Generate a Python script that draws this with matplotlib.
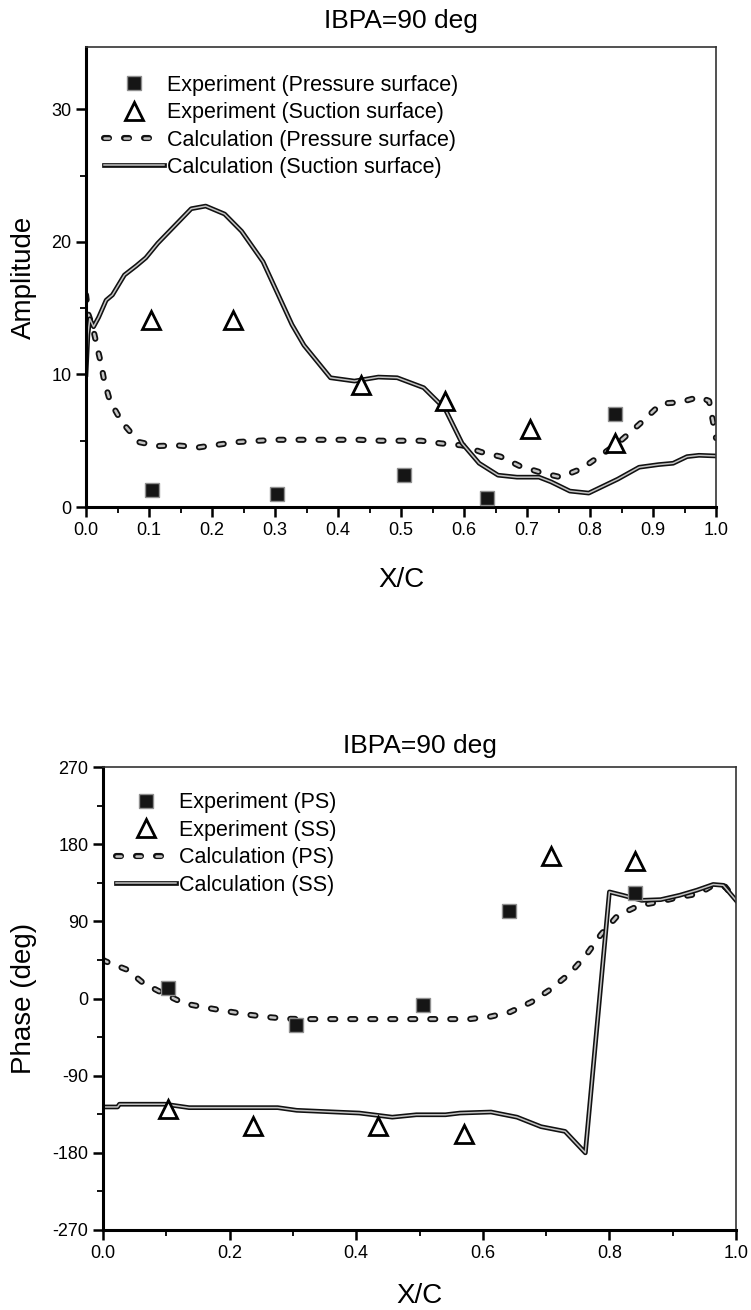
import matplotlib
matplotlib.use("Agg")
import matplotlib.pyplot as plt
import matplotlib.patheffects as pe
from matplotlib.ticker import MultipleLocator

plt.rcParams['font.family'] = ['Liberation Sans', 'DejaVu Sans']
plt.rcParams['axes.unicode_minus'] = False

# ---- Amplitude data ----
amp_ps_exp_x = [0.105, 0.303, 0.504, 0.637, 0.840]
amp_ps_exp_y = [1.3, 0.95, 2.45, 0.65, 7.0]
amp_ss_exp_x = [0.103, 0.234, 0.437, 0.570, 0.705, 0.840]
amp_ss_exp_y = [14.1, 14.1, 9.2, 8.0, 5.9, 4.8]

amp_ps_calc_x = [0.0, 0.004, 0.011, 0.018, 0.023, 0.029, 0.038, 0.057, 0.084, 0.114,
                 0.144, 0.179, 0.209, 0.240, 0.274, 0.304, 0.335, 0.369, 0.403, 0.433,
                 0.468, 0.498, 0.532, 0.563, 0.597, 0.627, 0.658, 0.688, 0.722, 0.753,
                 0.787, 0.814, 0.844, 0.882, 0.913, 0.943, 0.973, 0.989, 0.995, 1.0]
amp_ps_calc_y = [16.0, 14.5, 13.5, 12.0, 11.0, 9.5, 8.0, 6.4, 4.9, 4.6,
                 4.65, 4.5, 4.7, 4.9, 5.0, 5.07, 5.07, 5.07, 5.07, 5.07,
                 5.0, 5.0, 5.0, 4.8, 4.65, 4.15, 3.8, 3.1, 2.6, 2.25,
                 2.9, 3.8, 4.8, 6.4, 7.8, 7.9, 8.3, 8.0, 6.5, 5.2]

amp_ss_calc_x = [0.0, 0.003, 0.006, 0.012, 0.020, 0.032, 0.042, 0.061, 0.080, 0.095,
                 0.114, 0.167, 0.190, 0.220, 0.247, 0.281, 0.327, 0.346, 0.388, 0.426,
                 0.464, 0.494, 0.536, 0.570, 0.597, 0.624, 0.654, 0.684, 0.719, 0.738,
                 0.768, 0.798, 0.844, 0.878, 0.909, 0.932, 0.954, 0.973, 1.0]
amp_ss_calc_y = [10.0, 13.0, 14.2, 13.6, 14.3, 15.6, 16.0, 17.5, 18.2, 18.8,
                 19.9, 22.5, 22.7, 22.1, 20.8, 18.5, 13.75, 12.2, 9.75, 9.5,
                 9.8, 9.75, 9.0, 7.4, 4.8, 3.3, 2.4, 2.25, 2.25, 1.9,
                 1.2, 1.05, 2.1, 3.0, 3.2, 3.3, 3.8, 3.9, 3.85]

# ---- Phase data ----
ph_ps_exp_x = [0.102, 0.305, 0.505, 0.641, 0.840]
ph_ps_exp_y = [11.8, -31.0, -8.0, 101.5, 123.6]
ph_ss_exp_x = [0.102, 0.237, 0.435, 0.570, 0.707, 0.840]
ph_ss_exp_y = [-128.5, -148.3, -148.3, -158.2, 165.8, 160.0]

ph_ps_calc_x = [0.0, 0.004, 0.038, 0.064, 0.095, 0.129, 0.163, 0.197, 0.231, 0.261,
                0.291, 0.321, 0.367, 0.443, 0.518, 0.579, 0.613, 0.643, 0.677, 0.707,
                0.738, 0.764, 0.787, 0.813, 0.847, 0.877, 0.911, 0.942, 0.964, 0.983, 1.0]
ph_ps_calc_y = [45.0, 43.4, 33.6, 17.8, 5.9, -5.9, -10.7, -15.0, -19.0, -21.7,
                -23.7, -24.0, -24.0, -24.0, -24.0, -24.0, -21.0, -15.8, -4.0, 10.7,
                29.6, 51.3, 75.0, 96.7, 108.6, 112.5, 118.4, 122.4, 132.3, 130.3, 114.5]

ph_ss_calc_x = [0.0, 0.023, 0.026, 0.098, 0.136, 0.276, 0.306, 0.367, 0.405, 0.457,
                0.495, 0.541, 0.564, 0.613, 0.654, 0.692, 0.730, 0.762, 0.800, 0.821,
                0.851, 0.881, 0.911, 0.938, 0.964, 0.980, 1.0]
ph_ss_calc_y = [-126.5, -126.5, -123.3, -123.3, -127.3, -127.3, -130.4, -132.4, -133.6, -138.4,
                -135.6, -135.6, -133.6, -132.4, -138.4, -149.5, -155.0, -180.0, 124.3, 120.4,
                114.5, 115.3, 120.4, 126.3, 133.0, 132.0, 114.5]

W, H = 751, 1310
fig = plt.figure(figsize=(W / 100, H / 100), dpi=100)


def px_axes(left, right, top, bottom):
    return fig.add_axes([left / W, (H - bottom) / H, (right - left) / W, (bottom - top) / H])


def double_line(ax, x, y, dashed, label):
    if dashed:
        ax.plot(x, y, color='#c4c4c4', lw=1.8, label=label,
                linestyle=(0, (2.0, 6.0)), dash_capstyle='round',
                path_effects=[pe.Stroke(linewidth=4.4, foreground='#111111'), pe.Normal()])
    else:
        ax.plot(x, y, color='#c4c4c4', lw=1.1, label=label, solid_joinstyle='round',
                path_effects=[pe.Stroke(linewidth=3.4, foreground='#111111'), pe.Normal()])


def experiment(ax, xs, ys, xt, yt, lab_s, lab_t):
    ax.plot(xs, ys, 's', ms=10, mfc='#151515', mec='#8f8f8f', mew=1.0, label=lab_s, zorder=4)
    ax.plot(xt, yt, '^', ms=13, mfc='white', mec='black', mew=2.0, label=lab_t, zorder=4)


def style_axes(ax):
    for s in ('left', 'bottom'):
        ax.spines[s].set_linewidth(2.2)
    for s in ('top', 'right'):
        ax.spines[s].set_linewidth(1.2)
        ax.spines[s].set_color('#333333')
    ax.tick_params(which='major', direction='out', length=7, width=1.8, labelsize=13,
                   top=False, right=False)
    ax.tick_params(which='minor', direction='out', length=4, width=1.3,
                   top=False, right=False)


LEG = dict(loc='upper left', frameon=False, fontsize=15.5, handlelength=2.8,
           handletextpad=0.15, labelspacing=0.3, borderaxespad=0.0, borderpad=0.0)
order = [2, 3, 0, 1]

# ---- Amplitude panel ----
ax1 = px_axes(86, 716, 47, 507)
double_line(ax1, amp_ps_calc_x, amp_ps_calc_y, True, 'Calculation (Pressure surface)')
double_line(ax1, amp_ss_calc_x, amp_ss_calc_y, False, 'Calculation (Suction surface)')
experiment(ax1, amp_ps_exp_x, amp_ps_exp_y, amp_ss_exp_x, amp_ss_exp_y,
           'Experiment (Pressure surface)', 'Experiment (Suction surface)')
ax1.set_xlim(0, 1.0)
ax1.set_ylim(0, 34.7)
ax1.xaxis.set_major_locator(MultipleLocator(0.1))
ax1.xaxis.set_minor_locator(MultipleLocator(0.05))
ax1.yaxis.set_major_locator(MultipleLocator(10))
ax1.yaxis.set_minor_locator(MultipleLocator(5))
ax1.set_xticklabels([f'{v:.1f}' for v in ax1.get_xticks()])
style_axes(ax1)
ax1.set_title('IBPA=90 deg', fontsize=19, pad=14)
ax1.set_xlabel('X/C', fontsize=20)
ax1.set_ylabel('Amplitude', fontsize=20)
ax1.xaxis.set_label_coords(0.5, -0.13)
ax1.yaxis.set_label_coords(-0.078, 0.5)
h, l = ax1.get_legend_handles_labels()
ax1.legend([h[i] for i in order], [l[i] for i in order],
           bbox_to_anchor=(0.028, 0.94), **LEG)

# ---- Phase panel ----
ax2 = px_axes(103, 736, 767, 1230)
double_line(ax2, ph_ps_calc_x, ph_ps_calc_y, True, 'Calculation (PS)')
double_line(ax2, ph_ss_calc_x, ph_ss_calc_y, False, 'Calculation (SS)')
experiment(ax2, ph_ps_exp_x, ph_ps_exp_y, ph_ss_exp_x, ph_ss_exp_y,
           'Experiment (PS)', 'Experiment (SS)')
ax2.set_xlim(0, 1.0)
ax2.set_ylim(-270, 270)
ax2.xaxis.set_major_locator(MultipleLocator(0.2))
ax2.xaxis.set_minor_locator(MultipleLocator(0.1))
ax2.yaxis.set_major_locator(MultipleLocator(90))
ax2.yaxis.set_minor_locator(MultipleLocator(45))
ax2.set_xticklabels([f'{v:.1f}' for v in ax2.get_xticks()])
style_axes(ax2)
ax2.set_title('IBPA=90 deg', fontsize=19, pad=10)
ax2.set_xlabel('X/C', fontsize=20)
ax2.set_ylabel('Phase (deg)', fontsize=20)
ax2.xaxis.set_label_coords(0.5, -0.115)
ax2.yaxis.set_label_coords(-0.105, 0.5)
h, l = ax2.get_legend_handles_labels()
ax2.legend([h[i] for i in order], [l[i] for i in order],
           bbox_to_anchor=(0.02, 0.945), **LEG)

fig.savefig('out.png', dpi=100)
